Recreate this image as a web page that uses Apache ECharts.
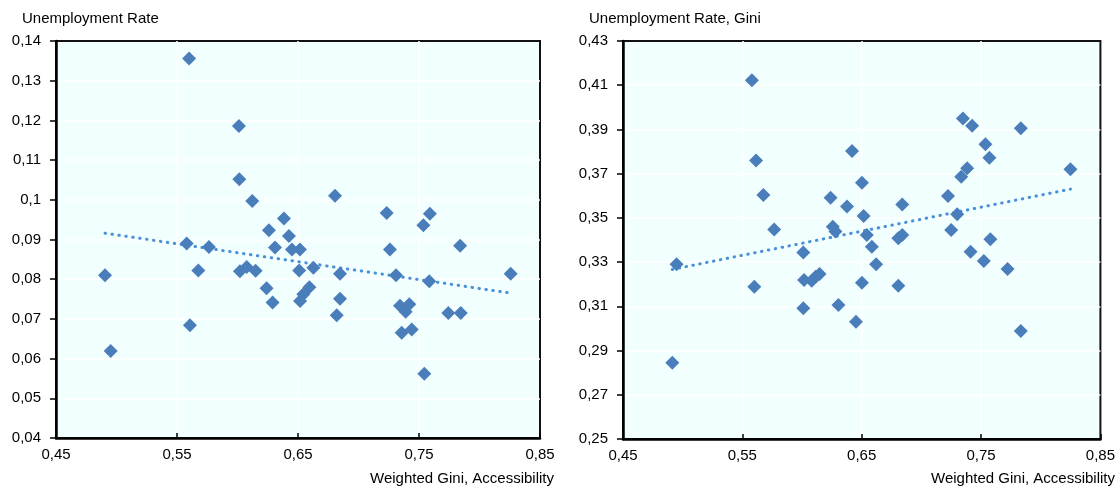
<!DOCTYPE html>
<html>
<head>
<meta charset="utf-8">
<script src="https://cdn.jsdelivr.net/npm/echarts@6/dist/echarts.min.js"></script>
<style>
  html, body { margin: 0; padding: 0; background: #fff; }
  #chart { width: 1118px; height: 487px; }
</style>
</head>
<body>
<div id="chart"></div>
<script>
// Left panel: accessibility Gini vs unemployment rate
const leftX = [0.4905, 0.4952, 0.558, 0.560, 0.5607, 0.5676, 0.5764, 0.6012, 0.6015, 0.602,
  0.6076, 0.6122, 0.615, 0.624, 0.626, 0.629, 0.631, 0.6384, 0.6425, 0.645,
  0.6516, 0.651, 0.6517, 0.6544, 0.6594, 0.6627, 0.6806, 0.682, 0.6847, 0.6847,
  0.7233, 0.726, 0.731, 0.7343, 0.7357, 0.739, 0.742, 0.744, 0.7536, 0.7544,
  0.7585, 0.759, 0.7742, 0.784, 0.7845, 0.8258];
const leftY = [0.0810, 0.0619, 0.0890, 0.1356, 0.0684, 0.0822, 0.0881, 0.1186, 0.1052, 0.0820,
  0.0831, 0.0997, 0.0821, 0.0777, 0.0923, 0.0741, 0.0880, 0.0953, 0.0909, 0.0875,
  0.0875, 0.0822, 0.0745, 0.0762, 0.0780, 0.0829, 0.1010, 0.0709, 0.0814, 0.0751,
  0.0967, 0.0875, 0.0810, 0.0733, 0.0665, 0.0718, 0.0737, 0.0673, 0.0936, 0.0562,
  0.0795, 0.0965, 0.0715, 0.0884, 0.0715, 0.0814];
const leftTrend = [[0.4905, 0.0916], [0.8258, 0.0765]];

// Right panel: accessibility Gini vs unemployment-rate Gini
const rightX = [0.4913, 0.4949, 0.558, 0.560, 0.5615, 0.5676, 0.5767, 0.6011, 0.6011, 0.6017,
  0.6081, 0.6114, 0.6147, 0.6239, 0.6258, 0.628, 0.6305, 0.6377, 0.6419, 0.6452,
  0.6502, 0.6502, 0.6516, 0.6543, 0.6585, 0.6621, 0.6807, 0.6807, 0.684, 0.684,
  0.7223, 0.725, 0.730, 0.7334, 0.7348, 0.7384, 0.7412, 0.7425, 0.7523, 0.7537,
  0.757, 0.7578, 0.7722, 0.7833, 0.7833, 0.8249];
const rightY = [0.2845, 0.3290, 0.4122, 0.3189, 0.3760, 0.3603, 0.3448, 0.3344, 0.3091, 0.3219,
  0.3216, 0.3234, 0.3246, 0.3591, 0.3460, 0.3438, 0.3106, 0.3551, 0.3802, 0.3030,
  0.3659, 0.3207, 0.3509, 0.3423, 0.3370, 0.3290, 0.3408, 0.3193, 0.3561, 0.3423,
  0.3599, 0.3445, 0.3516, 0.3686, 0.3950, 0.3724, 0.3347, 0.3917, 0.3305, 0.3833,
  0.3772, 0.3403, 0.3269, 0.3905, 0.2988, 0.3720];
const rightTrend = [[0.4913, 0.3267], [0.8249, 0.3630]];

const xTicks = { min: 0.45, max: 0.85, interval: 0.1 };
const leftTicks = { min: 0.04, max: 0.14, interval: 0.01 };
const rightTicks = { min: 0.25, max: 0.43, interval: 0.02 };

const yTitles = ['Unemployment Rate', 'Unemployment Rate, Gini'];
const xTitle = 'Weighted Gini, Accessibility';

const FONT = "'Liberation Sans', Arial, sans-serif";
const markerColor = '#4A7EBB';
const trendColor = '#4A90D9';

const fmt = v => String(Number(v.toFixed(4))).replace('.', ',');
const zip = (xs, ys) => xs.map((x, i) => [x, ys[i]]);

// white gridlines stop short of the frame so the black border stays visible
const gridLines = { show: true, showMinLine: false, showMaxLine: false,
  lineStyle: { color: '#fff', width: 1.5 } };

function xAxis(gridIndex) {
  return {
    type: 'value', gridIndex,
    min: xTicks.min, max: xTicks.max, interval: xTicks.interval,
    axisLine: { show: true, onZero: false, lineStyle: { color: '#000', width: 2.5 } },
    axisTick: { show: true, inside: true, length: 5, lineStyle: { color: '#000', width: 1.5 } },
    axisLabel: { formatter: fmt, color: '#000', fontSize: 15, fontFamily: FONT, margin: 9 },
    splitLine: gridLines
  };
}
function yAxis(gridIndex, t) {
  return {
    type: 'value', gridIndex,
    min: t.min, max: t.max, interval: t.interval,
    axisLine: { show: true, onZero: false, lineStyle: { color: '#000', width: 2.5 } },
    axisTick: { show: true, inside: false, length: 6, lineStyle: { color: '#000', width: 1.5 } },
    axisLabel: { formatter: fmt, color: '#000', fontSize: 15, fontFamily: FONT, margin: 15 },
    splitLine: gridLines
  };
}
function scatter(idx, data) {
  return {
    type: 'scatter', xAxisIndex: idx, yAxisIndex: idx,
    data, symbol: 'diamond', symbolSize: 14,
    itemStyle: { color: markerColor, opacity: 1 }, z: 3
  };
}
function trend(idx, data) {
  return {
    type: 'line', xAxisIndex: idx, yAxisIndex: idx,
    data, symbol: 'none', silent: true, z: 2,
    lineStyle: { color: trendColor, width: 3, type: [0.5, 6.5], cap: 'round' }
  };
}

const textStyle = { fontSize: 15, fontWeight: 'normal', color: '#000', fontFamily: FONT };

const chart = echarts.init(document.getElementById('chart'), null, { renderer: 'canvas' });
chart.setOption({
  animation: false,
  backgroundColor: '#fff',
  title: [
    { text: yTitles[0], left: 22, top: 11, padding: 0, textStyle },
    { text: yTitles[1], left: 589, top: 11, padding: 0, textStyle },
    { text: xTitle, right: 564, top: 471, padding: 0, textStyle },
    { text: xTitle, right: 3, top: 471, padding: 0, textStyle }
  ],
  grid: [
    { left: 56, top: 41, width: 484, height: 397, show: true,
      backgroundColor: '#F2FFFF', borderColor: '#111', borderWidth: 2 },
    { left: 623, top: 41, width: 478, height: 398, show: true,
      backgroundColor: '#F2FFFF', borderColor: '#111', borderWidth: 2 }
  ],
  xAxis: [xAxis(0), xAxis(1)],
  yAxis: [yAxis(0, leftTicks), yAxis(1, rightTicks)],
  series: [
    trend(0, leftTrend),
    scatter(0, zip(leftX, leftY)),
    trend(1, rightTrend),
    scatter(1, zip(rightX, rightY))
  ]
});
</script>
</body>
</html>
